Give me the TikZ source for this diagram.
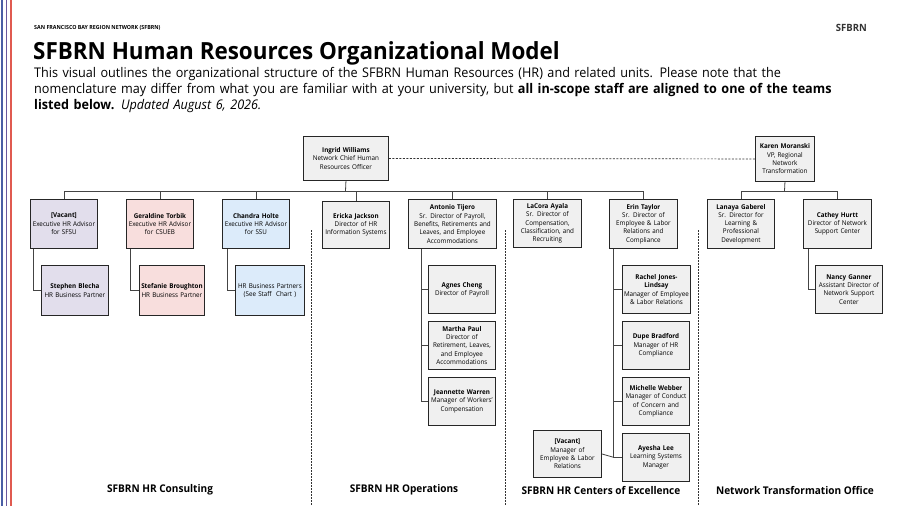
\documentclass[tikz,border=0pt]{standalone}
\usepackage{fontspec}
\setmainfont[FakeStretch=0.95]{Open Sans}
\usepackage{tikz}
\usetikzlibrary{positioning}
\definecolor{colorGrey}{HTML}{F0F0F0}
\definecolor{colorPurple}{HTML}{E2DEEC}
\definecolor{colorPink}{HTML}{F8DEDD}
\definecolor{colorBlue}{HTML}{DCEBFA}
\definecolor{colorLine}{HTML}{444444}
\tikzset{
  box/.style={draw=black!85, line width=0.9pt, fill=colorGrey, anchor=north west,
    minimum width=67pt, minimum height=48pt, text width=66pt, inner sep=0.5pt,
    align=center, font=\fontsize{6.6}{8.3}\selectfont},
  link/.style={colorLine, line width=0.8pt},
  divider/.style={black!80, line width=0.7pt, dash pattern=on 1.5pt off 1.5pt},
  team/.style={font=\bfseries\fontsize{10.6}{12}\selectfont}
}
\hyphenpenalty=10000
\begin{document}
\begin{tikzpicture}[x=1pt, y=-1pt]
\useasboundingbox (0,0) rectangle (900,506);
\fill[white] (0,0) rectangle (900,506);
% left stripes
\draw[line width=1.6pt, color={rgb,255:red,74;green,95;blue,165}] (2,0) -- (2,506);
\draw[line width=1.6pt, color={rgb,255:red,107;green,90;blue,158}] (6.5,0) -- (6.5,506);
\draw[line width=1.6pt, color={rgb,255:red,224;green,90;blue,80}] (11,0) -- (11,506);
% header
\node[anchor=west, inner sep=0pt, font=\bfseries\fontsize{5.6}{6}\selectfont] (org) at (34,28) {SAN FRANCISCO BAY REGION NETWORK (SFBRN)};
\node[anchor=east, inner sep=0pt, font=\bfseries\fontsize{10}{11}\selectfont, black!80] (logo) at (867,28) {SFBRN};
\node[anchor=west, font=\bfseries\fontsize{23.6}{25}\selectfont, inner sep=0pt] (title) at (33,53) {SFBRN Human Resources Organizational Model};
\node[anchor=north west, text width=840pt, inner sep=0pt, font=\fontsize{13.3}{16}\selectfont] (intro) at (34,67)
  {This visual outlines the organizational structure of the SFBRN Human Resources (HR) and related units. Please note that the\\ nomenclature may differ from what you are familiar with at your university, but \textbf{all in-scope staff are aligned to one of the teams}\\ \textbf{listed below.} \textit{Updated August 6, 2026.}};

% leaders
\node[box, minimum width=85pt, text width=84pt, minimum height=44pt] (ingrid) at (303,136) {\textbf{Ingrid Williams}\\Network Chief Human\\Resources Officer};
\node[box, minimum width=59pt, text width=58pt, minimum height=45pt] (karen) at (755,136) {\textbf{Karen Moranski}\\VP, Regional\\Network\\Transformation};
\draw[divider, dash pattern=on 2pt off 1.5pt] (ingrid.east) -- (karen.west);

% first row
\node[box, fill=colorPurple, minimum height=49pt] (vacant) at (30,199) {\textbf{[Vacant]}\\Executive HR Advisor\\for SFSU};
\node[box, fill=colorPink, minimum height=49pt] (torbik) at (126,199) {\textbf{Geraldine Torbik}\\Executive HR Advisor\\for CSUEB};
\node[box, fill=colorBlue, minimum height=49pt] (holte) at (222,199) {\textbf{Chandra Holte}\\Executive HR Advisor\\for SSU};
\node[box, minimum height=47pt] (jackson) at (322,201) {\textbf{Ericka Jackson}\\Director of HR\\Information Systems};
\node[box, minimum width=88pt, text width=87pt, minimum height=49pt] (tijero) at (408,199) {\textbf{Antonio Tijero}\\Sr. Director of Payroll,\\Benefits, Retirements and\\Leaves, and Employee\\Accommodations};
\node[box, minimum width=68pt, minimum height=48pt] (ayala) at (513,199) {\textbf{LaCora Ayala}\\Sr. Director of\\Compensation,\\Classification, and\\Recruiting};
\node[box, minimum width=68pt, minimum height=49pt] (taylor) at (609,199) {\textbf{Erin Taylor}\\Sr. Director of\\Employee \& Labor\\Relations and\\Compliance};
\node[box, minimum height=49pt] (gaberel) at (707,199) {\textbf{Lanaya Gaberel}\\Sr. Director for\\Learning \&\\Professional\\Development};
\node[box, minimum width=68pt, minimum height=49pt] (hurtt) at (803,199) {\textbf{Cathey Hurtt}\\Director of Network\\Support Center};

% second rows
\node[box, fill=colorPurple, minimum height=50pt] (blecha) at (41,265) {\textbf{Stephen Blecha}\\HR Business Partner};
\node[box, fill=colorPink, minimum width=64pt, text width=64pt, minimum height=50pt] (broughton) at (139,265) {\textbf{Stefanie Broughton}\\HR Business Partner};
\node[box, fill=colorBlue, minimum width=68pt, text width=68pt, minimum height=50pt] (partners) at (235,265) {HR Business Partners\\(See Staff~ Chart )};
\node[box] (cheng) at (428,265) {\textbf{Agnes Cheng}\\Director of Payroll};
\node[box, below=7pt of cheng.south west, anchor=north west] (paul) {\textbf{Martha Paul}\\Director of\\Retirement, Leaves,\\and Employee\\Accommodations};
\node[box, below=7pt of paul.south west, anchor=north west] (warren) {\textbf{Jeannette Warren}\\Manager of Workers'\\Compensation};
\node[box, text width=67pt] (lindsay) at (622,265) {\textbf{Rachel Jones-}\\\textbf{Lindsay}\\Manager of Employee\\\& Labor Relations};
\node[box, below=7pt of lindsay.south west, anchor=north west] (bradford) {\textbf{Dupe Bradford}\\Manager of HR\\Compliance};
\node[box, below=7pt of bradford.south west, anchor=north west] (webber) {\textbf{Michelle Webber}\\Manager of Conduct\\of Concern and\\Compliance};
\node[box, below=7pt of webber.south west, anchor=north west] (lee) {\textbf{Ayesha Lee}\\Learning Systems\\Manager};
\node[box, minimum width=68pt, minimum height=47pt] (vacantelr) at (533,430) {\textbf{[Vacant]}\\Manager of\\Employee \& Labor\\Relations};
\node[box, minimum height=48pt] (ganner) at (815,265) {\textbf{Nancy Ganner}\\Assistant Director of\\Network Support\\Center};

% connectors
\coordinate (hub) at (345.5,191);
\coordinate (kHub) at (784.5,191);
\draw[link] (ingrid.south) -- (hub);
\foreach \n in {vacant, torbik, holte, jackson, tijero, ayala, taylor}
  \draw[link] (\n.north) |- (hub);
\draw[link] (karen.south) -- (kHub);
\foreach \n in {gaberel, hurtt}
  \draw[link] (\n.north) |- (kHub);
\draw[link] ([xshift=3pt]vacant.south west) |- (blecha.west);
\draw[link] ([xshift=4pt]torbik.south west) |- (broughton.west);
\draw[link] ([xshift=5pt]holte.south west) |- (partners.west);
\foreach \n in {cheng, paul, warren}
  \draw[link] ([xshift=13pt]tijero.south west) |- (\n.west);
\foreach \n in {lindsay, bradford, webber, lee}
  \draw[link] ([xshift=4pt]taylor.south west) |- (\n.west);
\draw[link] (vacantelr.east) -- ([xshift=-9pt]lee.west);
\draw[link] ([xshift=5pt]hurtt.south west) |- (ganner.west);

% team dividers
\foreach \x in {311, 505, 698} {
  \coordinate (top\x) at (\x,230);
  \coordinate (bot\x) at (\x,506);
  \draw[divider] (top\x) -- (bot\x);
}

% team names
\node[team] (consulting) at (160,490) {SFBRN HR Consulting};
\node[team] (operations) at (404,490) {SFBRN HR Operations};
\node[team] (excellence) at (601,490) {SFBRN HR Centers of Excellence};
\node[team] (transform) at (795,490) {Network Transformation Office};
\end{tikzpicture}
\end{document}
